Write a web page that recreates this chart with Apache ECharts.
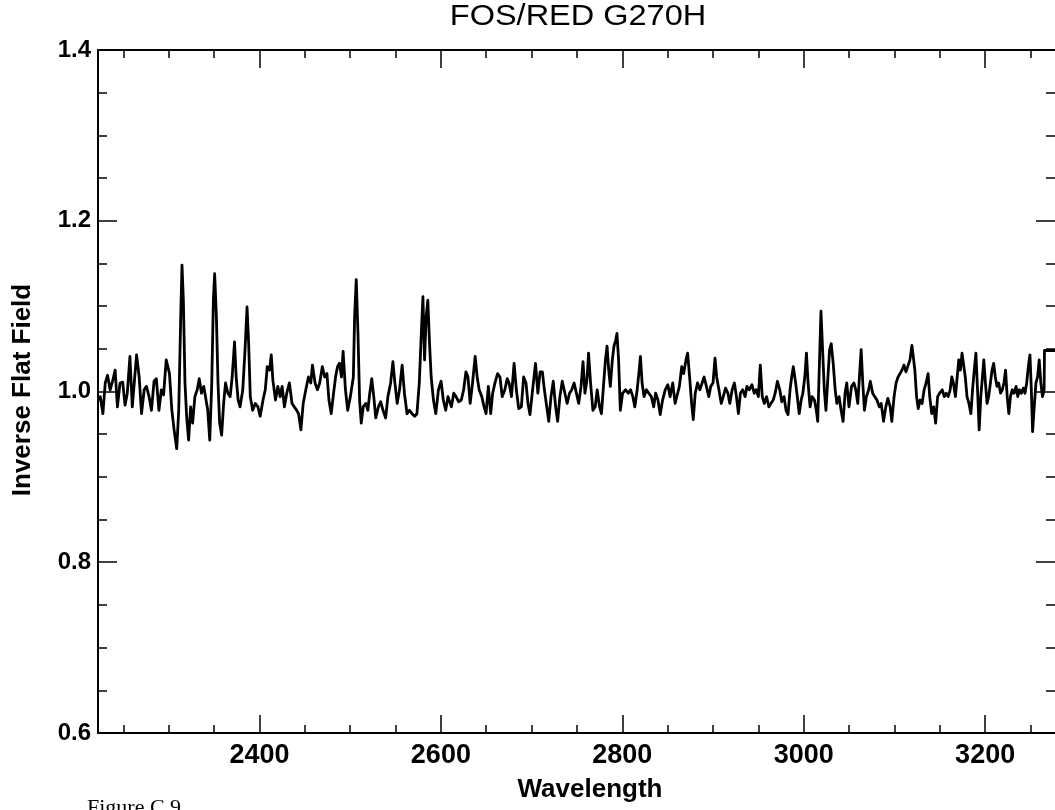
<!DOCTYPE html>
<html>
<head>
<meta charset="utf-8">
<script src="https://cdn.jsdelivr.net/npm/echarts@6/dist/echarts.min.js"></script>
<style>
html,body{margin:0;padding:0;background:#fff;}
#chart{width:1055px;height:810px;}
</style>
</head>
<body>
<div id="chart"></div>
<script>
// ---- data ----
const titleText = 'FOS/RED G270H';
const xName = 'Wavelength';
const yName = 'Inverse Flat Field';
const figCaption = 'Figure C.9';

const xMin = 2222, xMax = 3277;
const yMin = 0.6, yMax = 1.4, yStep = 0.2;
const xMajorTicks = [2400, 2600, 2800, 3000, 3200];
const xMinorTicks = [2250, 2300, 2350, 2450, 2500, 2550, 2650, 2700, 2750, 2850, 2900, 2950, 3050, 3100, 3150, 3250];

const wavelength = [
2222,2224.5,2227.4,2230.0,2232.5,2235.4,2238.3,2240.9,2243.4,2246.3,2249.2,2251.8,2254.3,2257.2,2259.8,2262.0,2264.5,2267.4,2270.0,2272.9,
2275.4,2278.3,2280.9,2283.8,2286.3,2289.2,2291.8,2294.3,2297.2,2300.8,2303.4,2305.9,2308.8,2311.0,2313.2,2314.6,2316.1,2317.9,2319.7,2321.9,
2324.1,2326.3,2328.8,2331.4,2333.6,2336.1,2338.6,2340.8,2343.0,2345.2,2347.4,2349.2,2350.6,2352.5,2354.3,2356.1,2358.3,2360.5,2362.6,2365.2,
2367.7,2369.9,2372.5,2374.3,2376.5,2378.6,2381.6,2384.1,2386.3,2388.1,2389.9,2392.5,2395.4,2398.3,2400.8,2403.9,2406.4,2408.6,2411.1,2413.0,
2414.8,2417.7,2420.2,2422.8,2425.0,2427.5,2430.1,2433.0,2435.9,2438.4,2441.0,2443.1,2445.7,2448.2,2451.1,2454.0,2456.6,2458.4,2461.3,2463.9,
2466.4,2469.3,2471.9,2474.4,2476.6,2479.1,2481.7,2483.9,2486.0,2488.2,2490.4,2492.2,2494.8,2497.3,2500.2,2503.5,2504.9,2506.7,2508.6,2510.4,
2512.2,2514.4,2517.3,2519.5,2521.6,2523.8,2526.0,2528.2,2531.1,2533.6,2536.2,2539.1,2541.6,2544.6,2547.1,2549.3,2551.8,2554.4,2557.3,2559.8,
2562.7,2565.3,2568.2,2571.1,2573.6,2576.2,2578.4,2580.2,2582.0,2583.8,2585.6,2587.5,2589.3,2591.8,2594.4,2597.3,2600.2,2602.7,2605.3,2607.8,
2611.6,2614.2,2616.7,2619.6,2622.5,2625.1,2627.6,2629.8,2632.3,2634.9,2637.8,2640.0,2642.2,2645.1,2647.6,2649.8,2652.3,2654.9,2657.1,2659.6,
2662.5,2665.1,2667.6,2670.5,2673.1,2675.2,2677.8,2680.7,2683.2,2685.8,2688.7,2691.2,2693.8,2696.0,2698.2,2700.7,2704.3,2706.9,2709.4,2711.9,
2714.1,2716.7,2718.9,2721.4,2723.9,2726.5,2728.7,2731.2,2733.8,2736.7,2739.2,2741.8,2744.3,2746.9,2749.4,2751.9,2754.5,2756.7,2758.8,2761.0,
2762.8,2765.0,2767.6,2770.1,2772.3,2774.9,2777.0,2779.2,2781.4,2783.2,2785.0,2786.8,2789.0,2790.8,2792.7,2794.1,2795.9,2797.8,2800.3,2803.7,
2806.6,2809.1,2811.6,2813.8,2816.4,2818.6,2820.0,2821.8,2824.0,2826.6,2829.1,2832.0,2834.6,2836.7,2839.3,2841.8,2844.4,2847.3,2850.2,2852.7,
2855.6,2858.2,2860.4,2862.9,2865.5,2867.6,2870.2,2872.0,2874.2,2876.4,2878.2,2880.4,2882.9,2885.5,2888.0,2890.2,2892.7,2895.3,2897.5,2900.0,
2902.2,2904.0,2906.5,2909.1,2911.3,2913.8,2916.4,2918.5,2921.1,2923.6,2925.8,2928.0,2930.2,2932.7,2935.3,2937.4,2940.0,2942.9,2945.4,2947.6,
2950.0,2952.1,2954.3,2956.5,2959.0,2961.6,2963.8,2966.3,2968.5,2971.0,2973.6,2975.8,2978.3,2980.5,2982.7,2984.9,2986.7,2988.5,2990.7,2992.9,
2995.0,2997.2,2999.0,3001.2,3003.0,3004.8,3007.0,3009.2,3011.8,3013.9,3015.4,3017.2,3019.0,3020.8,3022.7,3024.5,3026.3,3028.5,3030.3,3032.5,
3034.7,3036.5,3039.0,3041.2,3043.4,3045.6,3047.4,3049.9,3052.7,3055.3,3057.4,3059.6,3061.4,3063.3,3065.1,3066.9,3069.1,3071.6,3073.4,3076.0,
3078.2,3080.7,3083.3,3085.4,3088.0,3090.5,3092.7,3095.3,3097.1,3099.6,3101.8,3104.0,3106.2,3108.3,3110.5,3112.7,3114.9,3117.1,3119.3,3120.7,
3122.5,3124.4,3126.2,3128.3,3130.5,3132.7,3134.9,3137.1,3138.9,3141.1,3143.3,3145.4,3147.6,3149.8,3152.7,3154.9,3157.0,3159.2,3161.4,3163.2,
3165.0,3167.2,3169.0,3170.9,3172.7,3174.5,3176.3,3178.1,3180.0,3182.1,3184.3,3186.1,3188.0,3189.8,3191.6,3193.4,3195.2,3197.0,3198.5,3200.3,
3202.1,3203.9,3205.8,3207.6,3209.4,3211.2,3213.0,3214.9,3217.0,3218.9,3220.7,3222.5,3224.3,3226.1,3227.9,3229.8,3231.9,3234.1,3235.9,3237.8,
3239.9,3242.1,3243.9,3245.8,3247.6,3249.4,3250.9,3252.3,3254.1,3256.0,3257.8,3259.6,3261.4,3263.2,3265.0,3265.4,3277
];

const flatField = [
0.990,0.994,0.974,1.010,1.019,1.002,1.013,1.025,0.982,1.010,1.011,0.984,0.998,1.041,0.982,1.010,1.043,1.017,0.974,1.002,
1.006,0.994,0.978,1.012,1.015,0.978,1.002,0.996,1.037,1.021,0.978,0.955,0.933,0.978,1.088,1.148,1.107,1.010,0.971,0.943,
0.982,0.963,0.994,1.002,1.015,0.998,1.006,1.004,0.978,0.943,1.010,1.107,1.138,1.088,1.010,0.963,0.949,0.986,1.010,0.998,
0.994,1.017,1.058,1.017,0.990,0.982,1.002,1.049,1.099,1.056,0.994,0.978,0.986,0.982,0.971,0.990,1.002,1.029,1.025,1.043,
1.013,0.990,1.006,0.994,1.006,0.982,0.998,1.010,0.986,0.982,0.978,0.974,0.955,0.986,1.002,1.017,1.010,1.031,1.010,1.002,
1.010,1.029,1.017,1.021,0.990,0.974,0.998,1.017,1.029,1.033,1.017,1.047,1.002,0.978,0.994,1.017,1.088,1.131,1.068,0.990,
0.963,0.982,0.986,0.978,0.998,1.015,0.994,0.969,0.982,0.988,0.978,0.969,0.994,1.010,1.035,1.010,0.986,1.002,1.031,0.998,
0.974,0.978,0.974,0.971,0.974,1.010,1.068,1.111,1.037,1.088,1.107,1.056,1.017,0.990,0.974,1.002,1.012,0.990,0.978,0.994,
0.982,0.998,0.994,0.988,0.990,1.002,1.023,1.017,0.986,1.010,1.041,1.017,1.002,0.994,0.982,0.974,1.006,0.974,0.998,1.010,
1.021,1.017,0.994,1.002,1.015,1.010,0.994,1.033,1.002,0.980,0.982,1.017,1.010,0.986,0.973,0.998,1.033,0.998,1.023,1.023,
1.002,0.982,0.965,0.994,1.012,0.982,0.965,0.994,1.012,0.998,0.986,0.998,1.002,1.010,0.998,0.986,1.006,1.035,0.998,1.013,
1.045,1.010,0.978,0.982,1.002,0.982,0.974,1.006,1.037,1.053,1.025,1.006,1.037,1.053,1.060,1.068,1.037,0.978,0.998,1.002,
0.998,1.002,0.994,0.982,1.002,1.025,1.041,1.010,0.994,1.002,0.998,0.994,0.982,0.998,0.990,0.973,0.990,1.002,1.008,0.994,
1.010,0.986,0.984,1.006,1.029,1.021,1.037,1.045,1.017,0.986,0.967,0.998,1.010,1.002,1.010,1.017,1.006,0.994,1.006,1.010,
1.039,1.017,1.002,0.986,0.994,1.004,0.998,0.986,1.002,1.010,0.994,0.974,0.998,1.002,0.994,1.006,1.002,1.008,0.998,1.002,
0.994,1.031,0.994,0.986,0.994,0.982,0.986,0.990,0.998,1.012,1.002,0.988,0.994,0.978,0.973,1.002,1.017,1.029,1.013,0.994,
0.974,0.990,0.998,1.017,1.045,1.010,0.982,0.994,0.990,0.978,0.965,1.029,1.094,1.049,1.002,0.978,1.010,1.049,1.056,1.033,
1.002,0.986,0.994,0.978,0.965,0.998,1.010,0.982,1.006,1.010,1.002,0.986,1.017,1.049,1.010,0.978,0.994,1.002,1.012,0.998,
0.994,0.990,0.982,0.986,0.965,0.982,0.992,0.982,0.965,0.994,1.010,1.017,1.021,1.025,1.031,1.023,1.021,1.037,1.054,1.053,
1.025,0.994,0.980,0.990,0.986,1.002,1.010,1.021,0.994,0.974,0.982,0.963,0.994,0.998,1.002,0.994,0.998,0.994,1.002,1.017,
1.010,0.994,0.994,1.037,1.025,1.045,1.047,1.017,0.994,0.986,0.974,1.002,1.025,1.045,1.002,0.955,0.994,1.017,1.037,1.010,
0.986,0.994,1.010,1.025,1.033,1.017,1.006,1.010,0.998,1.002,1.010,1.025,0.994,0.974,0.994,1.002,0.998,1.006,0.994,1.002,
0.998,1.004,0.998,1.010,1.029,1.043,1.002,0.953,0.982,1.010,1.017,1.037,1.010,0.994,1.002,1.048,1.048
];

// ---- chart ----
const chart = echarts.init(document.getElementById('chart'), null, {renderer: 'canvas'});
const FONT = 'Liberation Sans, Arial, Helvetica, sans-serif';
const black = '#000';

function xAxisDef(pos, ticks, len, withLine, withLabels) {
  return {
    type: 'value', position: pos, min: xMin, max: xMax,
    axisLine: {show: withLine, onZero: false, lineStyle: {color: black, width: 2}},
    axisTick: {show: true, inside: true, length: len, customValues: ticks, lineStyle: {color: black, width: 1.5}},
    axisLabel: withLabels ? {show: true, customValues: ticks, color: black, fontFamily: FONT, fontWeight: 'bold', fontSize: 27, margin: 9,
      formatter: v => String(v)} : {show: false},
    splitLine: {show: false}
  };
}
function yAxisDef(pos, withLabels) {
  return {
    type: 'value', position: pos, min: yMin, max: yMax, interval: yStep,
    axisLine: {show: withLabels, onZero: false, lineStyle: {color: black, width: 2}},
    axisTick: {show: true, inside: true, length: 19, lineStyle: {color: black, width: 1.5}},
    minorTick: {show: true, splitNumber: 4, length: 9, lineStyle: {color: black, width: 1.5}},
    axisLabel: withLabels ? {show: true, color: black, fontFamily: FONT, fontWeight: 'bold', fontSize: 24, margin: 7,
      formatter: v => v.toFixed(1)} : {show: false},
    splitLine: {show: false}, minorSplitLine: {show: false}
  };
}

const seriesData = wavelength.map((w, i) => [w, flatField[i]]);

chart.setOption({
  animation: false,
  backgroundColor: '#fff',
  grid: {left: 98, width: 961, top: 50, height: 683, containLabel: false},
  xAxis: [
    xAxisDef('bottom', xMajorTicks, 18, true, true),
    xAxisDef('bottom', xMinorTicks, 8, false, false),
    xAxisDef('top', xMajorTicks, 18, true, false),
    xAxisDef('top', xMinorTicks, 8, false, false)
  ],
  yAxis: [yAxisDef('left', true), yAxisDef('right', false)],
  series: [{
    type: 'line', xAxisIndex: 0, yAxisIndex: 0,
    data: seriesData, showSymbol: false, symbol: 'none',
    lineStyle: {color: black, width: 2.8, join: 'round'},
    clip: true
  }],
  graphic: [
    {type: 'text', x: 578, y: 17, scaleX: 1.12, style: {text: titleText, fill: black, font: 'normal 29px ' + FONT, textAlign: 'center', textVerticalAlign: 'middle'}},
    {type: 'text', x: 590, y: 790, style: {text: xName, fill: black, font: 'bold 26px ' + FONT, textAlign: 'center', textVerticalAlign: 'middle'}},
    {type: 'text', x: 23, y: 390, rotation: Math.PI / 2, style: {text: yName, fill: black, font: 'bold 26px ' + FONT, textAlign: 'center', textVerticalAlign: 'middle'}},
    {type: 'text', x: 87, y: 797, style: {text: figCaption, fill: black, font: 'normal 22px "Liberation Serif", "Times New Roman", serif', textAlign: 'left', textVerticalAlign: 'top'}}
  ]
});
</script>
</body>
</html>
